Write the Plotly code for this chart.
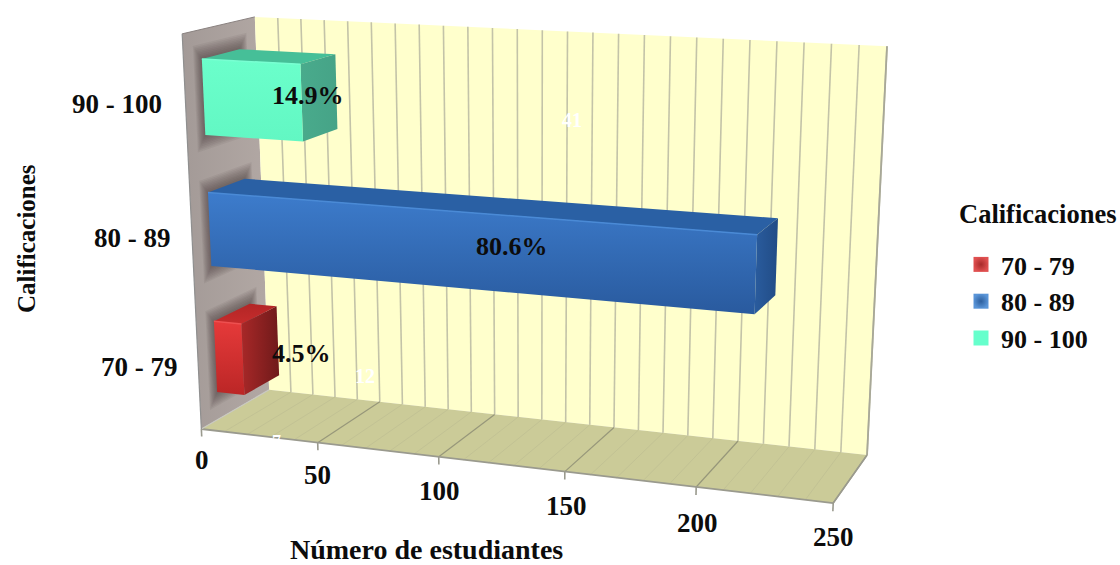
import numpy as np
import plotly.graph_objects as go

# Chart data
categories = ["70 - 79", "80 - 89", "90 - 100"]
students = [12, 216, 41]
shares = ["4.5%", "80.6%", "14.9%"]
value_ticks = [0, 50, 100, 150, 200, 250]
value_max = 250

SERIF = "Liberation Serif"
INK = "#0c0c0c"

# Bar cross-section in box coordinates (depth 0 = front, 1 = back wall)
BAR_DEPTH = (0.24, 0.76)
BAR_BAND = (0.22, 0.785)

# Reference frame of the 3D box: (value share, depth, level share) -> canvas pixels
FRAME = [
    (0, 0, 0, 201, 428), (1, 0, 0, 833, 503),
    (0, 1, 0, 269, 390), (1, 1, 0, 867, 455),
    (0, 1, 1, 255, 17), (1, 1, 1, 887, 46),
    (0, 0, 1, 182, 34),
    (0.2, 0, 0, 318, 443), (0.4, 0, 0, 439, 457), (0.6, 0, 0, 565, 472),
]


def solve_camera(frame):
    rows = []
    for x, y, z, u, v in frame:
        rows.append([x, y, z, 1, 0, 0, 0, 0, -u * x, -u * y, -u * z, -u])
        rows.append([0, 0, 0, 0, x, y, z, 1, -v * x, -v * y, -v * z, -v])
    _, _, vt = np.linalg.svd(np.array(rows, float))
    return vt[-1].reshape(3, 4)


CAMERA = solve_camera(FRAME)


def project(value, depth, level):
    """Map a data value, a depth and a category level onto the canvas."""
    p = CAMERA @ np.array([value / value_max, depth, level / len(categories), 1.0])
    return p[0] / p[2], p[1] / p[2]


fig = go.Figure()


def face(points, color=None, gradient=None):
    xy = [project(*p) for p in points]
    xs = [q[0] for q in xy] + [xy[0][0]]
    ys = [q[1] for q in xy] + [xy[0][1]]
    kw = dict(fill="toself", hoverinfo="skip", showlegend=False,
              line=dict(width=0), mode="lines")
    if gradient:
        kw["fillgradient"] = dict(type=gradient[0],
                                  colorscale=[[0, gradient[1]], [1, gradient[2]]])
    else:
        kw["fillcolor"] = color
    fig.add_trace(go.Scatter(x=xs, y=ys, **kw))


def edge(a, b, color, width=1.5):
    pa, pb = project(*a), project(*b)
    fig.add_trace(go.Scatter(x=[pa[0], pb[0]], y=[pa[1], pb[1]], mode="lines",
                             line=dict(color=color, width=width),
                             hoverinfo="skip", showlegend=False))


top = len(categories)

# Walls and floor
face([(0, 0, 0), (0, 1, 0), (0, 1, top), (0, 0, top)],
     gradient=("horizontal", "#a39a97", "#b2a8a4"))
face([(0, 1, 0), (value_max, 1, 0), (value_max, 1, top), (0, 1, top)], color="#ffffcc")
face([(0, 0, 0), (value_max, 0, 0), (value_max, 1, 0), (0, 1, 0)], color="#cbcb98")

# Gridlines on the back wall and the floor
for v in range(10, value_max + 1, 10):
    edge((v, 1, 0), (v, 1, top), "#c3c3a8", 1.6)
    major = v % 50 == 0
    edge((v, 0, 0), (v, 1, 0), "#97977a" if major else "#c2c294", 1.2 if major else 1)
edge((0, 0, 0), (value_max, 0, 0), "#9a9a8e", 1.8)
edge((0, 0, 0), (0, 1, 0), "#c8c8c0", 1.2)
edge((0, 0, 0), (0, 0, top), "#8f8f8f", 1.2)
edge((0, 0, top), (0, 1, top), "#8a8280", 1)
edge((value_max, 0, 0), (value_max, 1, 0), "#9a9a8e", 1.6)
edge((value_max, 1, 0), (value_max, 1, top), "#a8a898", 1.8)
for v in value_ticks:
    edge((v, 0, 0), (v, 0, -0.06), "#9a9a8e", 1.6)

# Bars
palette = [
    dict(front=("#e63a3a", "#bb2626"), top=("#c62c2c", "#b32626"), side=("#a82828", "#6f1a1a"),
         swatch="#e05050", rim="#a82a2a", bevel="#ee5050"),
    dict(front=("#3d7ccc", "#295a9e"), top=("#2a60a4", "#2a60a4"), side=("#2a5c9e", "#214c86"),
         swatch="#5a95d8", rim="#2d5f9e", bevel="#4a8ad6"),
    dict(front=("#6bffcb", "#62f7c3"), top=("#46bf98", "#46bf98"), side=("#49ab8c", "#46a387"),
         swatch="#66ffcc", rim="#66ffcc", bevel="#78ffd2"),
]

d0, d1 = BAR_DEPTH
for i, (cat, val, pal) in enumerate(zip(categories, students, palette)):
    z0, z1 = i + BAR_BAND[0], i + BAR_BAND[1]

    # Soft shadow cast on the side wall behind each bar
    for grow in np.arange(0.11, 0, -0.012):
        face([(0, d0 - grow, z0 - grow), (0, d1 + grow, z0 - grow),
              (0, d1 + grow, z1 + grow), (0, d0 - grow, z1 + grow)],
             color="rgba(70,58,50,0.075)")

    face([(0, d0, z1), (val, d0, z1), (val, d1, z1), (0, d1, z1)],
         gradient=("vertical", pal["top"][0], pal["top"][1]))
    face([(val, d0, z0), (val, d1, z0), (val, d1, z1), (val, d0, z1)],
         gradient=("horizontal", pal["side"][0], pal["side"][1]))
    face([(0, d0, z0), (val, d0, z0), (val, d0, z1), (0, d0, z1)],
         gradient=("vertical", pal["front"][1], pal["front"][0]))
    edge((0, d0, z1), (val, d0, z1), pal["bevel"], 1.5)

    # Entry for the legend
    fig.add_trace(go.Scatter(x=[None], y=[None], mode="markers", name=cat,
                             legendgroup=cat,
                             marker=dict(symbol="square", size=15, color=pal["swatch"],
                                         gradient=dict(type="radial", color=pal["rim"]))))


def text(x, y, label, size=26, color=INK, angle=0):
    fig.add_annotation(x=x, y=y, text=f"<b>{label}</b>", showarrow=False, textangle=angle,
                       font=dict(family=SERIF, size=size, color=color))


# Faint count labels printed behind the bars
text(572, 120, str(students[2]), 20, "#ffffff")
text(365, 376, str(students[0]), 20, "#ffffff")
text(276, 442, "7", 18, "#ffffff")

# Share labels
text(308, 95, shares[2])
text(512, 246, shares[1])
text(301, 353, shares[0])

# Category labels
text(117, 104, categories[2], 27)
text(132, 238, categories[1], 27)
text(139, 367, categories[0], 27)

# Value axis labels
for v, (x, y) in zip(value_ticks, [(202, 460), (317, 475), (439, 491), (566, 506), (697, 523), (833, 537)]):
    text(x, y, str(v), 27)

text(426, 549, "Número de estudiantes", 28)
text(26, 239, "Calificaciones", 25, angle=-90)
text(1038, 214, "Calificaciones", 26.5)

fig.update_layout(
    width=1120, height=565,
    margin=dict(l=0, r=0, t=0, b=0),
    paper_bgcolor="white", plot_bgcolor="white",
    xaxis=dict(visible=False, range=[0, 1120], fixedrange=True),
    yaxis=dict(visible=False, range=[565, 0], fixedrange=True),
    legend=dict(
        x=961 / 1120, y=1 - 241 / 565, xanchor="left", yanchor="top",
        bgcolor="rgba(0,0,0,0)", tracegroupgap=0,
        font=dict(family=SERIF, size=26, color=INK, weight="bold"),
    ),
)

fig.write_html("out.html")
